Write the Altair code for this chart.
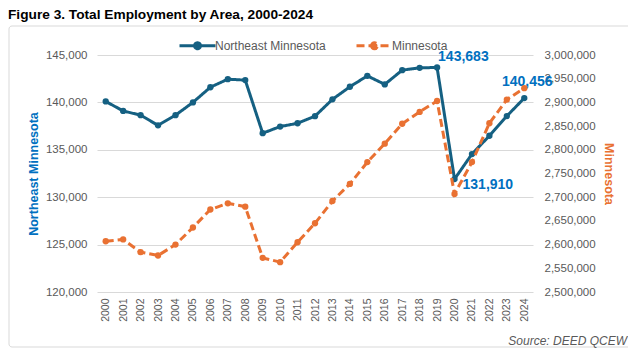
import altair as alt
import pandas as pd

# ---------------- data ----------------
years = list(range(2000, 2025))
ne_values = [140100, 139100, 138650, 137580, 138650, 140000, 141600, 142450, 142350,
             136750, 137450, 137800, 138550, 140320, 141650, 142800, 141900, 143400,
             143650, 143683, 131910, 134550, 136480, 138560, 140456]
mn_values = [2607000, 2611000, 2584000, 2577000, 2600000, 2636000, 2674000, 2687000,
             2680000, 2572000, 2563000, 2605000, 2645000, 2692000, 2728000, 2774000,
             2813000, 2855000, 2880000, 2903000, 2707000, 2774000, 2856000, 2906000,
             2930000]
series_names = ["Northeast Minnesota", "Minnesota"]
left_ticks = [120000, 125000, 130000, 135000, 140000, 145000]
right_ticks = [2500000, 2550000, 2600000, 2650000, 2700000, 2750000, 2800000,
               2850000, 2900000, 2950000, 3000000]
title_text = "Figure 3. Total Employment by Area, 2000-2024"
source_text = ["Source: DEED QCEW"]

ne_df = pd.DataFrame({"year": [str(y) for y in years], "value": ne_values,
                      "series": series_names[0]})
mn_df = pd.DataFrame({"year": [str(y) for y in years], "value": mn_values,
                      "series": series_names[1]})
src_df = pd.DataFrame({"t": source_text})

# ---------------- styles ----------------
NE_COLOR = "#156082"
MN_COLOR = "#E97132"
LABEL_BLUE = "#0070C0"
GRAY = "#595959"
FONT = "Liberation Sans"

color_scale = alt.Scale(domain=series_names, range=[NE_COLOR, MN_COLOR])
dash_scale = alt.Scale(domain=series_names, range=[[1, 0], [8, 4]])

legend = alt.Legend(
    orient="none", legendX=87, legendY=-23, direction="horizontal", title=None,
    symbolType="M-1.5,0L1.5,0M-0.25,0A0.25,0.25,0,1,0,0.25,0A0.25,0.25,0,1,0,-0.25,0",
    symbolSize=576, symbolStrokeWidth=3, labelFont=FONT, labelFontSize=12,
    labelColor=GRAY, columnPadding=24, labelOffset=4,
)

x_enc = alt.X("year:O", scale=alt.Scale(padding=0.5),
              axis=alt.Axis(title=None, labelAngle=-90, labelPadding=6,
                            ticks=False, domain=False, labelFontSize=10.5,
                            labelColor=GRAY, labelFont=FONT))

left_axis = alt.Axis(values=left_ticks, format=",.0f", grid=True, gridColor="#D9D9D9",
                     domain=False, ticks=False, labelPadding=10,
                     labelFontSize=11.5, labelColor=GRAY, labelFont=FONT,
                     title="Northeast Minnesota", titleColor=LABEL_BLUE,
                     titleFontSize=12.5, titleFont=FONT, titleFontWeight="bold",
                     titlePadding=5)
left_scale = alt.Scale(domain=[120000, 145000], nice=False, zero=False)
y_left = alt.Y("value:Q", scale=left_scale, axis=left_axis)

y_right = alt.Y("value:Q", scale=alt.Scale(domain=[2500000, 3000000], nice=False, zero=False),
                axis=alt.Axis(orient="right", values=right_ticks, format=",.0f", grid=False,
                              domain=False, ticks=False, labelPadding=11,
                              labelFontSize=11.5, labelColor=GRAY, labelFont=FONT,
                              title="Minnesota", titleColor=MN_COLOR,
                              titleFontSize=12.5, titleFont=FONT, titleFontWeight="bold",
                              titlePadding=6))

color_enc = alt.Color("series:N", scale=color_scale, legend=legend)
dash_enc = alt.StrokeDash("series:N", scale=dash_scale, legend=legend)

# border (decoration)
border = alt.Chart(src_df).mark_rect(fill=None, stroke="#D9D9D9", strokeWidth=1,
                                     cornerRadius=3).encode(
    x=alt.value(-88), x2=alt.value(535), y=alt.value(-29), y2=alt.value(292))

ne_line = alt.Chart(ne_df).mark_line(strokeWidth=3, point=alt.OverlayMarkDef(filled=True, size=40)).encode(
    x=x_enc, y=y_left, color=color_enc, strokeDash=dash_enc)


def label(year, align, dx, dy, baseline):
    return alt.Chart(ne_df).transform_filter(alt.datum.year == str(year)).mark_text(
        align=align, dx=dx, dy=dy, baseline=baseline, font=FONT, fontSize=14,
        fontWeight="bold", color=LABEL_BLUE).encode(
        x=x_enc, y=y_left, text=alt.Text("value:Q", format=",.0f"))


labels = [label(ly, a, dx, dy, b) for ly, a, dx, dy, b in
          [(2019, "left", 1, -3, "bottom"), (2020, "left", 8, 6, "middle"),
           (2024, "center", 3, -16, "middle")]]

source = alt.Chart(src_df).mark_text(align="right", baseline="middle", font=FONT,
                                     fontSize=12, fontStyle="italic", color=GRAY).encode(
    x=alt.value(530), y=alt.value(286), text="t:N")

ne_layer = alt.layer(border, ne_line, *labels, source)

mn_line = alt.Chart(mn_df).mark_line(strokeWidth=3, point=alt.OverlayMarkDef(filled=True, size=40)).encode(
    x=x_enc, y=y_right, color=color_enc, strokeDash=dash_enc)

chart = alt.layer(ne_layer, mn_line).resolve_scale(y="independent").properties(
    width=436, height=237,
    autosize=alt.AutoSizeParams(type="none"),
    padding={"left": 89, "top": 47, "right": 95, "bottom": 56},
    background="white",
    title=alt.Title(title_text, anchor="start", frame="group", dx=-89, offset=12, dy=8,
                    font=FONT, fontSize=13.7, fontWeight="bold", color="#000000"),
).configure_view(stroke=None)

chart.save("out.html", embed_options={"renderer": "svg", "actions": False})
